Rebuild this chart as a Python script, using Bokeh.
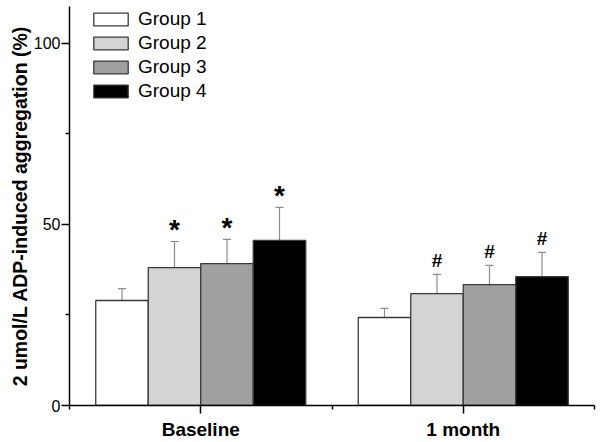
from bokeh.plotting import figure
from bokeh.models import (FixedTicker, Legend, LegendItem, Whisker, ColumnDataSource,
                          Range1d, TeeHead)
from bokeh.embed import file_html
from bokeh.resources import INLINE
from bokeh.core.properties import value

# ---- data ----
categories = ["Baseline", "1 month"]
groups = ["Group 1", "Group 2", "Group 3", "Group 4"]
g1_mean = [29.0, 24.3]
g1_sd = [3.3, 2.5]
g2_mean = [38.1, 30.9]
g2_sd = [7.2, 5.3]
g3_mean = [39.2, 33.4]
g3_sd = [6.7, 5.3]
g4_mean = [45.6, 35.6]
g4_sd = [9.1, 6.7]
baseline_marks = ["", "*", "*", "*"]
month_marks = ["", "#", "#", "#"]
y_ticks = [0, 50, 100]
y_minor = [25, 75]

means = [g1_mean, g2_mean, g3_mean, g4_mean]
sds = [g1_sd, g2_sd, g3_sd, g4_sd]
marks = [baseline_marks, month_marks]
fills = ["#ffffff", "#d4d4d4", "#a0a0a0", "#000000"]

FONT = "Liberation Sans"
BAR_W = 0.2
offsets = [(i - 1.5) * BAR_W for i in range(len(groups))]

p = figure(width=600, height=442, output_backend="svg", toolbar_location=None,
           x_range=Range1d(0.5, len(categories) + 0.5), y_range=Range1d(0, 110.2),
           min_border_left=69, min_border_right=6, min_border_top=6, min_border_bottom=37)
p.outline_line_color = None
p.xgrid.visible = False
p.ygrid.visible = False

renderers = []
for gi, g in enumerate(groups):
    xs = [ci + 1 + offsets[gi] for ci in range(len(categories))]
    src = ColumnDataSource(dict(x=xs, top=means[gi],
                                upper=[m + s for m, s in zip(means[gi], sds[gi])],
                                lower=means[gi]))
    r = p.vbar(x="x", top="top", bottom=0, width=BAR_W, source=src,
               fill_color=fills[gi], line_color="#3a3a3a", line_width=1.3)
    renderers.append(r)
    w = Whisker(base="x", upper="upper", lower="lower", source=src, dimension="height",
                line_color="#8c8c8c", line_width=1.2,
                upper_head=TeeHead(size=8, line_color="#8c8c8c", line_width=1.2),
                lower_head=None)
    p.add_layout(w)

# significance marks
for ci, cat in enumerate(categories):
    for gi in range(len(groups)):
        m = marks[ci][gi]
        if not m:
            continue
        x = ci + 1 + offsets[gi]
        y = means[gi][ci] + sds[gi][ci]
        if m == "*":
            p.text(x=[x], y=[y], text=[m], text_align="center", text_baseline="alphabetic",
                   y_offset=-12, text_font=value(FONT), text_font_style="bold",
                   text_font_size="28px", text_color="black")
        else:
            p.text(x=[x], y=[y], text=[m], text_align="center", text_baseline="alphabetic",
                   y_offset=-14, text_font=value(FONT), text_font_style="bold",
                   text_font_size="19px", text_color="black")

# axes
p.xaxis.ticker = FixedTicker(ticks=[i + 1 for i in range(len(categories))],
                             minor_ticks=[i + 0.5 for i in range(len(categories) + 1)])
p.xaxis.major_label_overrides = {i + 1: c for i, c in enumerate(categories)}
p.yaxis.ticker = FixedTicker(ticks=y_ticks, minor_ticks=y_minor)
for ax in (p.xaxis[0], p.yaxis[0]):
    ax.axis_line_color = "black"
    ax.axis_line_width = 1.5
    ax.major_tick_line_color = "black"
    ax.minor_tick_line_color = "black"
    ax.major_tick_line_width = 1.5
    ax.minor_tick_line_width = 1.5
    ax.major_tick_in = 0
    ax.minor_tick_in = 0
    ax.major_tick_out = 8
    ax.minor_tick_out = 4
    ax.major_label_text_font = FONT
    ax.major_label_text_color = "black"
    ax.axis_label_text_font = FONT
    ax.axis_label_text_color = "black"

p.xaxis.major_label_text_font_style = "bold"
p.xaxis.major_label_text_font_size = "19px"
p.xaxis.major_label_standoff = 5
p.yaxis.major_label_text_font_size = "16px"
p.yaxis.major_label_standoff = 1
p.yaxis.axis_label = "2 umol/L ADP-induced aggregation (%)"
p.yaxis.axis_label_text_font_style = "bold"
p.yaxis.axis_label_text_font_size = "19.5px"
p.yaxis.axis_label_standoff = 0

legend = Legend(items=[LegendItem(label=g, renderers=[r]) for g, r in zip(groups, renderers)],
                location=(20, 302), margin=0, padding=0, spacing=0,
                glyph_width=43, glyph_height=16, label_height=24, label_standoff=6,
                label_text_font=FONT, label_text_font_size="19px", label_text_color="black",
                border_line_color=None, background_fill_alpha=0)
p.add_layout(legend)

open("out.html", "w").write(file_html(p, INLINE))
